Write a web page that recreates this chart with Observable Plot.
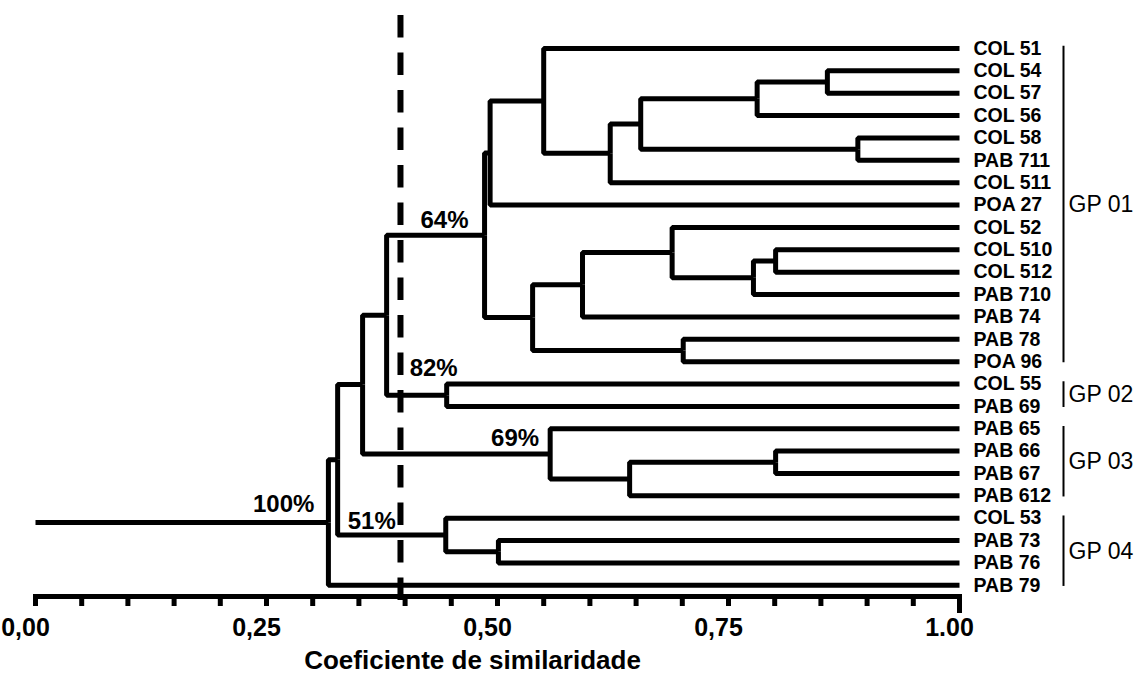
<!DOCTYPE html>
<html>
<head>
<meta charset="utf-8">
<script src="https://cdn.jsdelivr.net/npm/d3@7"></script>
<script src="https://cdn.jsdelivr.net/npm/@observablehq/plot@0.6"></script>
<style>
  html, body { margin: 0; padding: 0; background: #fff; }
  #chart { width: 1136px; height: 673px; }
</style>
</head>
<body>
<div id="chart"></div>
<script>
// ---- Data ----
const leaves = [
  "COL 51", "COL 54", "COL 57", "COL 56", "COL 58", "PAB 711", "COL 511", "POA 27",
  "COL 52", "COL 510", "COL 512", "PAB 710", "PAB 74", "PAB 78", "POA 96",
  "COL 55", "PAB 69",
  "PAB 65", "PAB 66", "PAB 67", "PAB 612",
  "COL 53", "PAB 73", "PAB 76", "PAB 79"
];
// merge i creates node "n(i+1)" joining mergeA[i] and mergeB[i] at similarity mergeSim[i]
const mergeA = ["COL 54", "n1", "COL 58", "n2", "n4", "COL 51", "n6", "COL 510", "n8", "COL 52", "n10", "PAB 78",
                "n11", "n7", "COL 55", "n14", "PAB 66", "n17", "PAB 65", "n16", "PAB 73", "COL 53", "n20", "n23"];
const mergeB = ["COL 57", "COL 56", "PAB 711", "n3", "COL 511", "n5", "POA 27", "COL 512", "PAB 710", "n9", "PAB 74", "POA 96",
                "n12", "n13", "PAB 69", "n15", "PAB 67", "PAB 612", "n18", "n19", "PAB 76", "n21", "n22", "PAB 79"];
const mergeSim = [0.857, 0.781, 0.890, 0.655, 0.622, 0.550, 0.492, 0.801, 0.777, 0.689, 0.592, 0.701,
                  0.538, 0.486, 0.445, 0.380, 0.801, 0.643, 0.557, 0.354, 0.501, 0.444, 0.327, 0.317];

const bootLabels = ["100%", "64%", "82%", "69%", "51%"];
const bootNodes  = ["n24", "n14", "n15", "n19", "n22"];

const groupNames = ["GP 01", "GP 02", "GP 03", "GP 04"];
const groupFirst = ["COL 51", "COL 55", "PAB 65", "COL 53"];
const groupLast  = ["POA 96", "PAB 69", "PAB 612", "PAB 79"];

const cutSim = 0.395;
const tickValues = [0, 0.25, 0.5, 0.75, 1];
const tickLabels = ["0,00", "0,25", "0,50", "0,75", "1.00"];
const minorStep = 0.05;
const axisTitle = "Coeficiente de similaridade";

// ---- Build tree geometry (data space: x = similarity, y = leaf index) ----
const pos = new Map();
leaves.forEach((n, i) => pos.set(n, {x: 1, y: i}));
const elbows = [];
mergeA.forEach((a, i) => {
  const id = "n" + (i + 1);
  const b = mergeB[i];
  const A = pos.get(a), B = pos.get(b);
  const node = {x: mergeSim[i], y: (A.y + B.y) / 2};
  pos.set(id, node);
  for (const [c, C] of [[a, A], [b, B]]) {
    const k = id + "-" + c;
    elbows.push({id: k, x: C.x, y: C.y}, {id: k, x: node.x, y: C.y}, {id: k, x: node.x, y: node.y});
  }
});
const root = pos.get("n" + mergeA.length);
elbows.push({id: "root", x: 0, y: root.y}, {id: "root", x: root.x, y: root.y});

const yMax = leaves.length - 0.5;
const minorTicks = d3.range(0, 1 + 1e-9, minorStep);
const groups = groupNames.map((name, i) => ({
  name,
  y1: leaves.indexOf(groupFirst[i]) - 0.1,
  y2: leaves.indexOf(groupLast[i]) + 0.05
}));

const bootStyle = [[-14, -18], [-16, -15], [11, -27], [-11, -16], [-50, -14]];

const font = "'Liberation Sans', Arial, Helvetica, sans-serif";

const chart = Plot.plot({
  width: 1136,
  height: 673,
  marginLeft: 35,
  marginRight: 177,
  marginTop: 48,
  marginBottom: 77,
  style: {fontFamily: font, color: "#000", background: "#fff", overflow: "visible"},
  x: {domain: [0, 1], label: null},
  y: {domain: [0, yMax], reverse: true, axis: null},
  marks: [
    Plot.ruleX([cutSim], {stroke: "#000", strokeWidth: 6, strokeDasharray: "22.5,15", insetTop: -33, insetBottom: -10}),
    Plot.line(elbows, {x: "x", y: "y", z: "id", stroke: "#000", strokeWidth: 5, strokeLinejoin: "miter", strokeLinecap: "butt"}),
    Plot.ruleY([yMax], {stroke: "#000", strokeWidth: 5, insetLeft: -2, insetRight: -3}),
    Plot.axisX({ticks: minorTicks, tickSize: 10, strokeWidth: 5, stroke: "#000", tickFormat: () => "", label: null}),
    Plot.axisX({ticks: [1], tickSize: 17, strokeWidth: 5, stroke: "#000", tickFormat: () => "", label: null}),
    Plot.text(tickValues, {x: d => d, text: (d, i) => tickLabels[i], frameAnchor: "bottom", dy: 31, dx: -10,
      lineAnchor: "middle", fontSize: 25, fontWeight: "bold", fill: "#000"}),
    Plot.text([axisTitle], {text: d => d, frameAnchor: "bottom", dy: 64, dx: -25, lineAnchor: "middle",
      fontSize: 26, fontWeight: "bold", fill: "#000"}),
    Plot.text(leaves, {y: (d, i) => i, text: d => d, frameAnchor: "right", textAnchor: "start", dx: 14,
      fontSize: 19.5, fontWeight: "bold", fill: "#000"}),
    Plot.ruleX(groups, {x: () => 1, y1: "y1", y2: "y2", dx: 104, stroke: "#000", strokeWidth: 2}),
    Plot.text(groups, {x: () => 1, y: d => (d.y1 + d.y2) / 2, text: "name", dx: 109, textAnchor: "start",
      fontSize: 23, fill: "#000"}),
    ...bootNodes.map((n, i) => Plot.text([bootLabels[i]], {
      x: () => pos.get(n).x, y: () => pos.get(n).y, text: d => d, textAnchor: "end",
      dx: bootStyle[i][0], dy: bootStyle[i][1], fontSize: 24, fontWeight: "bold", fill: "#000"
    }))
  ]
});
document.getElementById("chart").appendChild(chart);
</script>
</body>
</html>
